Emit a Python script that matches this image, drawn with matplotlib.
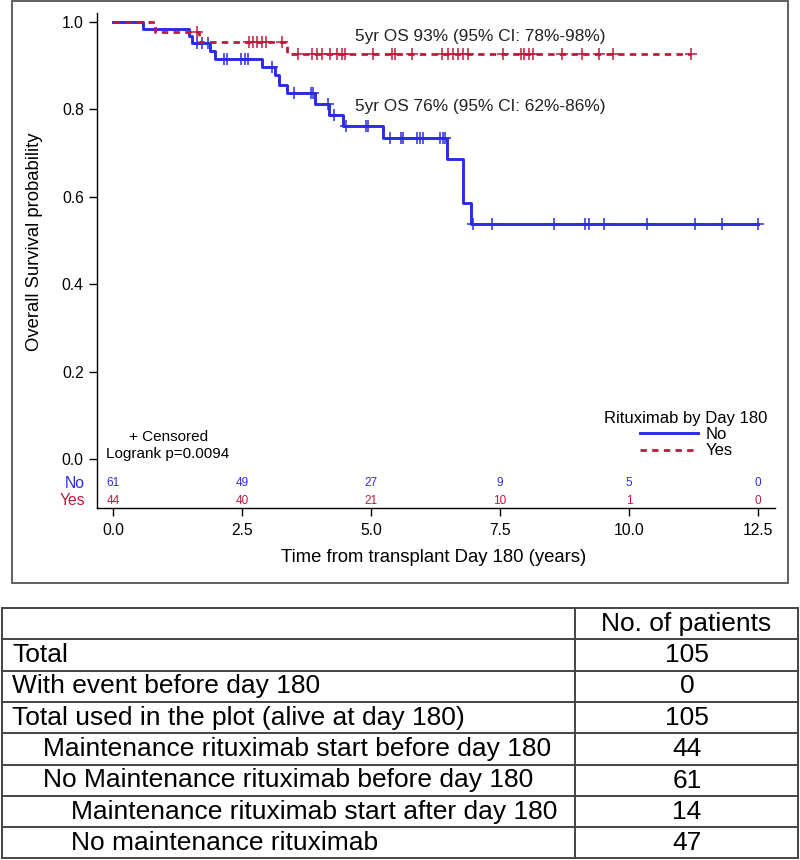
import numpy as np
import matplotlib
matplotlib.use("Agg")
import matplotlib.pyplot as plt
from matplotlib.patches import Rectangle

plt.rcParams['font.family'] = ['Liberation Sans', 'DejaVu Sans']

# ---------------- data ----------------
group_labels = ["No", "Yes"]

no_event_times = [0.58, 1.47, 1.54, 1.88, 1.98, 2.89, 3.14, 3.22, 3.37, 3.91,
                  4.19, 4.45, 5.24, 6.47, 6.78, 6.94]
no_surv = [1.0, 0.983, 0.968, 0.951, 0.934, 0.916, 0.898, 0.879, 0.856, 0.837,
           0.812, 0.787, 0.763, 0.734, 0.686, 0.587, 0.538]
no_censor = [1.62, 1.72, 1.84, 2.15, 2.20, 2.49, 2.55, 2.62, 3.08, 3.50, 3.83,
             3.88, 4.16, 4.28, 4.51, 4.90, 4.95, 5.36, 5.58, 5.63, 5.90, 5.95,
             6.00, 6.34, 6.39, 6.43, 6.98, 7.35, 8.55, 9.15, 9.23, 9.52, 10.34,
             11.27, 11.81, 12.51]

yes_event_times = [0.81, 1.67, 3.38]
yes_surv = [1.0, 0.977, 0.954, 0.926]
yes_censor = [1.62, 2.64, 2.72, 2.80, 2.88, 2.97, 3.27, 3.59, 3.86, 3.95, 4.05,
              4.21, 4.34, 4.43, 4.50, 5.04, 5.41, 5.47, 5.79, 6.38, 6.49, 6.59,
              6.69, 6.78, 6.88, 7.55, 7.90, 7.97, 8.06, 8.14, 8.70, 9.08, 9.41,
              9.70, 11.21]

risk_times = [0.0, 2.5, 5.0, 7.5, 10.0, 12.5]
risk_no = [61, 49, 27, 9, 5, 0]
risk_yes = [44, 40, 21, 10, 1, 0]

os_text_yes = "5yr OS 93% (95% CI: 78%-98%)"
os_text_no = "5yr OS 76% (95% CI: 62%-86%)"
logrank_text = "Logrank p=0.0094"

x_ticks = [0.0, 2.5, 5.0, 7.5, 10.0, 12.5]
x_tick_labels = ["0.0", "2.5", "5.0", "7.5", "10.0", "12.5"]
y_ticks = [0.0, 0.2, 0.4, 0.6, 0.8, 1.0]
y_tick_labels = ["0.0", "0.2", "0.4", "0.6", "0.8", "1.0"]

table_labels = ["Total", "With event before day 180",
                "Total used in the plot (alive at day 180)",
                "Maintenance rituximab start before day 180",
                "No Maintenance rituximab before day 180",
                "Maintenance rituximab start after day 180",
                "No maintenance rituximab"]
table_indent = [0, 0, 0, 1, 1, 2, 2]
table_values = [105, 0, 105, 44, 61, 14, 47]
table_header = "No. of patients"

BLUE = '#2B2BE3'
RED = '#BE1B3B'

# ---------------- figure ----------------
W, H = 800, 860
fig = plt.figure(figsize=(W / 100, H / 100), dpi=100)


def fx(px):
    return px / W


def fy(py):
    return 1 - py / H


fig.patches.append(Rectangle((fx(12), fy(583)), fx(788) - fx(12), fy(1) - fy(583),
                             transform=fig.transFigure, fill=False,
                             edgecolor='#555555', lw=1.3))

ax = fig.add_axes([fx(97), fy(508), fx(775) - fx(97), fy(13) - fy(508)])
ax.set_xlim(-0.31, 12.83)
ax.set_ylim(-0.112, 1.0206)
for s in ['top', 'right']:
    ax.spines[s].set_visible(False)
for s in ['left', 'bottom']:
    ax.spines[s].set_linewidth(1.0)


def step_curve(event_times, surv, end_time):
    t = np.concatenate([[0.0], event_times, [end_time]])
    s = np.concatenate([surv, [surv[-1]]])
    return t, s


def censor_y(event_times, surv, ctimes):
    idx = np.searchsorted(np.asarray(event_times), np.asarray(ctimes), side='right')
    return np.asarray(surv)[idx]


t_no, s_no = step_curve(no_event_times, no_surv, max(no_censor))
t_yes, s_yes = step_curve(yes_event_times, yes_surv, max(yes_censor))

ln_no, = ax.step(t_no, s_no, where='post', color=BLUE, lw=2.1, label=group_labels[0],
                 zorder=3)
ln_yes, = ax.step(t_yes, s_yes, where='post', color=RED, lw=2.0, label=group_labels[1],
                  dashes=(2.3, 1.9), zorder=4)

ax.plot(no_censor, censor_y(no_event_times, no_surv, no_censor), ls='none',
        marker='+', ms=8, mew=1.1, color=BLUE, zorder=3)
ax.plot(yes_censor, censor_y(yes_event_times, yes_surv, yes_censor), ls='none',
        marker='+', ms=8, mew=1.1, color=RED, zorder=4)

ax.set_xticks(x_ticks)
ax.set_xticklabels(x_tick_labels)
ax.set_yticks(y_ticks)
ax.set_yticklabels(y_tick_labels)
ax.tick_params(axis='both', direction='out', length=6, width=1, labelsize=11.3,
               colors='black')
ax.tick_params(axis='x', pad=5)
ax.tick_params(axis='y', pad=3.5)

ax.text(4.69, 0.966, os_text_yes, fontsize=12.4, va='center', ha='left', color='#222222')
ax.text(4.69, 0.806, os_text_no, fontsize=12.4, va='center', ha='left', color='#222222')

ax.text(1.07, 0.051, "+ Censored", fontsize=11, ha='center', va='center')
ax.text(-0.14, 0.011, logrank_text, fontsize=11, ha='left', va='center')

# number at risk
for t, n in zip(risk_times, risk_no):
    ax.text(t, -0.055, str(n), color=BLUE, fontsize=8.5, ha='center', va='center')
for t, n in zip(risk_times, risk_yes):
    ax.text(t, -0.095, str(n), color=RED, fontsize=8.5, ha='center', va='center')
ax.text(-0.54, -0.055, group_labels[0], color=BLUE, fontsize=11.3, ha='right',
        va='center', clip_on=False)
ax.text(-0.54, -0.095, group_labels[1], color=RED, fontsize=11.3, ha='right',
        va='center', clip_on=False)

leg = ax.legend(handles=[ln_no, ln_yes], title="Rituximab by Day 180",
                loc='center', bbox_to_anchor=(fx(686), fy(434.5)),
                bbox_transform=fig.transFigure, frameon=False, fontsize=12,
                title_fontsize=12, handlelength=3.5, handletextpad=0.45,
                labelspacing=0.08, borderpad=0, alignment='center')

fig.text(fx(434), fy(558), "Time from transplant Day 180 (years)", fontsize=13.3,
         ha='center', va='center')
fig.text(fx(35), fy(242), "Overall Survival probability", fontsize=13.3,
         ha='center', va='center', rotation=90)

# ---------------- table ----------------
tax = fig.add_axes([0, 0, 1, 1])
tax.set_xlim(0, W)
tax.set_ylim(H, 0)
tax.axis('off')

row_lines = [608.3, 639.3, 670.7, 702.0, 733.3, 765.0, 796.0, 827.3, 858.3]
x_left, x_div, x_right = 1.5, 575, 798
line_kw = dict(color='#444444', lw=1.4)
for y in row_lines:
    tax.plot([x_left, x_right], [y, y], **line_kw)
for x in [x_left, x_div, x_right]:
    tax.plot([x, x], [row_lines[0], row_lines[-1]], **line_kw)

indent_px = [12.5, 43, 71]
tsize = 19
centers = [(row_lines[i] + row_lines[i + 1]) / 2 for i in range(len(row_lines) - 1)]
tax.text(686.5, centers[0], table_header, fontsize=tsize, ha='center', va='center')
for i, (lab, ind, val) in enumerate(zip(table_labels, table_indent, table_values)):
    yc = centers[i + 1]
    tax.text(indent_px[ind], yc, lab, fontsize=tsize, ha='left', va='center')
    tax.text(687, yc, str(val), fontsize=tsize, ha='center', va='center')

fig.savefig("out.png", dpi=100)
